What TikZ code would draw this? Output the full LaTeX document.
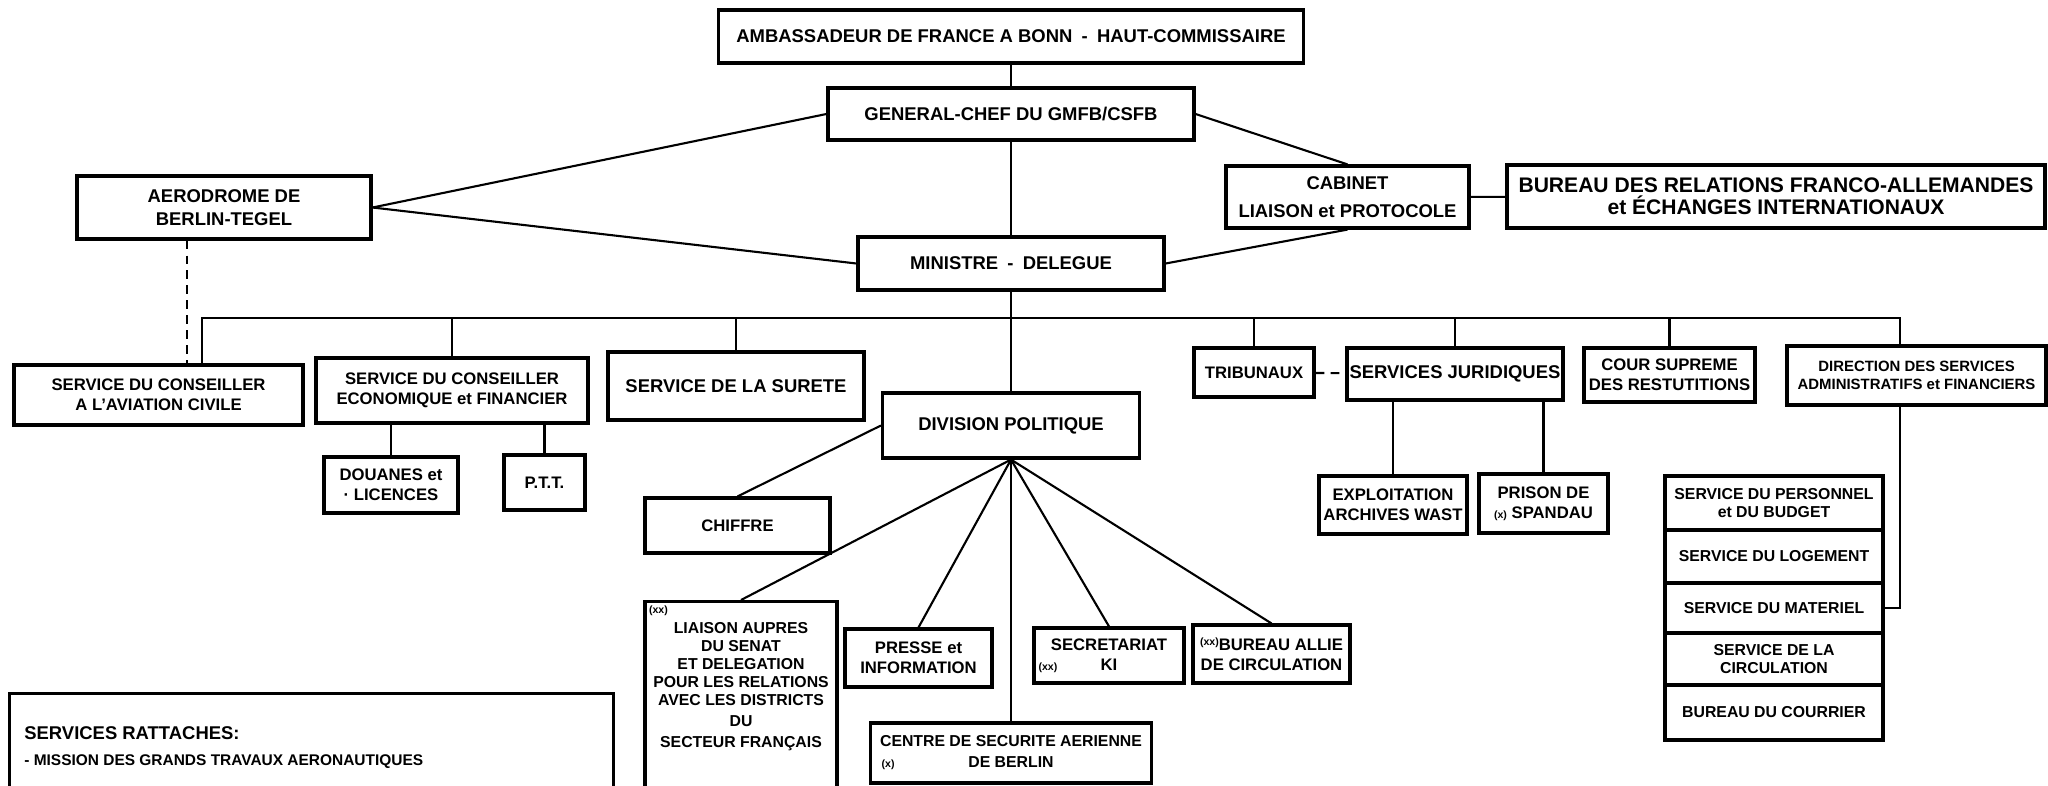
\documentclass[tikz,border=0pt]{standalone}
\usepackage{fontspec}
\setmainfont{Liberation Sans}
\usetikzlibrary{positioning}

\newcommand{\boxfont}{\fontsize{9.5}{11.5}\selectfont\bfseries}
\newcommand{\headfont}{\fontsize{10.5}{13}\selectfont\bfseries}
\newcommand{\rowfont}{\fontsize{9}{10.4}\selectfont\bfseries}
\newcommand{\relfont}{\fontsize{12}{12.5}\selectfont\bfseries}
\newcommand{\refmark}[1]{{\fontsize{6}{6}\selectfont(#1)}}

\begin{document}
\begin{tikzpicture}[
    x=0.02cm,
    y=-0.02cm,
    unit/.style={
        draw,
        line width=1.8pt,
        inner sep=1pt,
        align=center,
        font=\boxfont
    },
    dims/.style 2 args={
        minimum width=#1*0.02cm,
        minimum height=#2*0.02cm
    },
    rowbox/.style={
        unit,
        outer sep=0pt,
        font=\rowfont,
        dims={218}{#1}
    },
    link/.style={
        line width=1.2pt
    },
    looselink/.style={
        link,
        dash pattern=on 5pt off 3.5pt
    }
]

% page of the scan
\fill[white] (0,0) rectangle (2048,785);
\useasboundingbox (0,0) rectangle (2048,785);

% Main axis and the long horizontal line
\def\MainX{1011}
\def\BusY{318}

% ==================================================
% Top of the chart
% ==================================================

\node[unit, font=\headfont, dims={585}{53}] (ambassador) at (\MainX,36.5)
    {AMBASSADEUR DE FRANCE A BONN\enspace-\enspace HAUT-COMMISSAIRE};

\node[unit, font=\headfont, dims={366}{52}] (general) at (\MainX,114)
    {GENERAL-CHEF DU GMFB/CSFB};

\node[unit, font=\headfont, dims={306}{53}] (minister) at (\MainX,263.5)
    {MINISTRE\enspace-\enspace DELEGUE};

\node[unit, font=\headfont, dims={243}{62}] (cabinet) at (1347.5,197)
    {CABINET\\[3pt]LIAISON et PROTOCOLE};

\node[unit, font=\relfont, dims={538}{63}] (bureau) at (1776,196.5)
    {BUREAU DES RELATIONS FRANCO-ALLEMANDES\\et ÉCHANGES INTERNATIONAUX};

\node[unit, font=\headfont, dims={294}{63}] (airfield) at (224,207.5)
    {AERODROME DE\\BERLIN-TEGEL};

% ==================================================
% Services under the Ministre - Delegue
% ==================================================

\node[unit, dims={289}{60}] (aviation) at (158.5,395)
    {SERVICE DU CONSEILLER\\A L'AVIATION CIVILE};

\node[unit, dims={272}{65}] (economy) at (452,390.5)
    {SERVICE DU CONSEILLER\\ECONOMIQUE et FINANCIER};

\node[unit, font=\headfont, dims={256}{68}] (surete) at (736,386)
    {SERVICE DE LA SURETE};

\node[unit, font=\headfont, dims={257}{65}] (division) at (\MainX,425.5)
    {DIVISION POLITIQUE};

\node[unit, dims={120}{49}] (tribunals) at (1254,372.5)
    {TRIBUNAUX};

\node[unit, font=\fontsize{10.5}{12}\selectfont\bfseries, dims={216}{52}] (legal) at (1455,374)
    {SERVICES JURIDIQUES};

\node[unit, dims={171}{54}] (court) at (1669.5,375)
    {COUR SUPREME\\DES RESTUTITIONS};

\node[unit, font=\fontsize{8.5}{10.5}\selectfont\bfseries, dims={259}{59}] (direction) at (1916.5,375.5)
    {DIRECTION DES SERVICES\\ADMINISTRATIFS et FINANCIERS};

% ==================================================
% Second level
% ==================================================

\node[unit, dims={134}{56}] (customs) at (391,485)
    {DOUANES et\\· LICENCES};

\node[unit, dims={81}{55}] (ptt) at (544.5,482.5)
    {P.T.T.};

\node[unit, dims={148}{58}] (archives) at (1393,505)
    {EXPLOITATION\\ARCHIVES WAST};

\node[unit, dims={129}{59}] (prison) at (1543.5,503.5)
    {PRISON DE\\\refmark{x} SPANDAU};

% Division politique
\node[unit, dims={185}{55}] (cipher) at (737.5,525.5)
    {CHIFFRE};

\node[unit, anchor=north, dims={192}{210}] (senate) at (741,600)
    {};

\node[anchor=north west, inner sep=3pt, font=\bfseries] (senatemark) at (senate.north west)
    {\refmark{xx}};

\node[align=center, inner sep=0pt, anchor=north, font=\fontsize{9}{10.2}\selectfont\bfseries] (senatetext) at (741,622)
    {LIAISON AUPRES\\DU SENAT\\ET DELEGATION\\POUR LES RELATIONS\\AVEC LES DISTRICTS\\[2pt]DU\\[2pt]SECTEUR FRANÇAIS};

\node[unit, dims={147}{58}] (press) at (918.5,658)
    {PRESSE et\\INFORMATION};

\node[unit, font=\fontsize{9}{12}\selectfont\bfseries, dims={281}{60}] (aircentre) at (\MainX,753)
    {CENTRE DE SECURITE AERIENNE\\\llap{\refmark{x}\hspace{42pt}}DE BERLIN};

\node[unit, dims={150}{55}] (secretariat) at (1109,655.5)
    {SECRETARIAT\\\llap{\refmark{xx}\hspace{2.6em}}KI};

\node[unit, dims={157}{58}] (traffic) at (1271.5,654)
    {\raisebox{3pt}{\refmark{xx}}BUREAU ALLIE\\DE CIRCULATION};

% Direction des services administratifs
\node[rowbox=54] (personnel) at (1774,503)
    {SERVICE DU PERSONNEL\\et DU BUDGET};
\node[rowbox=53, below=0pt of personnel] (housing)
    {SERVICE DU LOGEMENT};
\node[rowbox=50, below=0pt of housing] (material)
    {SERVICE DU MATERIEL};
\node[rowbox=52, below=0pt of material] (circulation)
    {SERVICE DE LA\\CIRCULATION};
\node[rowbox=55, below=0pt of circulation] (mail)
    {BUREAU DU COURRIER};

% ==================================================
% Services rattaches
% ==================================================

\node[unit, anchor=north west, dims={604}{130}] (attached) at (8,692)
    {};

\node[anchor=west, inner sep=0pt, font=\fontsize{10.5}{12}\selectfont\bfseries] (attachedhead) at (24,733)
    {SERVICES RATTACHES:};

\node[anchor=west, inner sep=0pt, font=\fontsize{8.8}{10}\selectfont\bfseries] (attachedmission) at (24,762)
    {- MISSION DES GRANDS TRAVAUX AERONAUTIQUES};

% ==================================================
% Connectors
% ==================================================

\coordinate (busL) at (202,\BusY);
\coordinate (busR) at (1900,\BusY);
\coordinate (airlink) at (187,\BusY);

\draw[link] (ambassador) -- (general);
\draw[link] (general) -- (minister);
\draw[link] (minister) -- (division);

\draw[link] (airfield.east) -- (general.west);
\draw[link] (airfield.east) -- (minister.west);
\draw[link] (general.east) -- (cabinet.north);
\draw[link] (minister.east) -- (cabinet.south);
\draw[link] (cabinet) -- (bureau);

% Aerodrome to the aviation adviser
\draw[looselink] (airlink |- airfield.south) -- (airlink |- aviation.north);

% The long line under the Ministre - Delegue
\draw[link] (busL |- aviation.north) -- (busL) -- (busR) -- (busR |- direction.north);
\foreach \unitname in {economy,surete,tribunals,legal,court}
    \draw[link] (\unitname.north) -- (\unitname.north |- busL);

\draw[looselink] (tribunals) -- (legal);

\draw[link] (customs.north |- economy.south) -- (customs.north);
\draw[link] (ptt.north |- economy.south) -- (ptt.north);
\draw[link] (archives.north |- legal.south) -- (archives.north);
\draw[link] (prison.north |- legal.south) -- (prison.north);

\draw[link] (busR |- direction.south) |- (material.east);

% Division politique
\draw[link] (division.west) -- (cipher.north);
\foreach \unitname in {senate,press,aircentre,secretariat,traffic}
    \draw[link] (division.south) -- (\unitname.north);

\end{tikzpicture}
\end{document}
